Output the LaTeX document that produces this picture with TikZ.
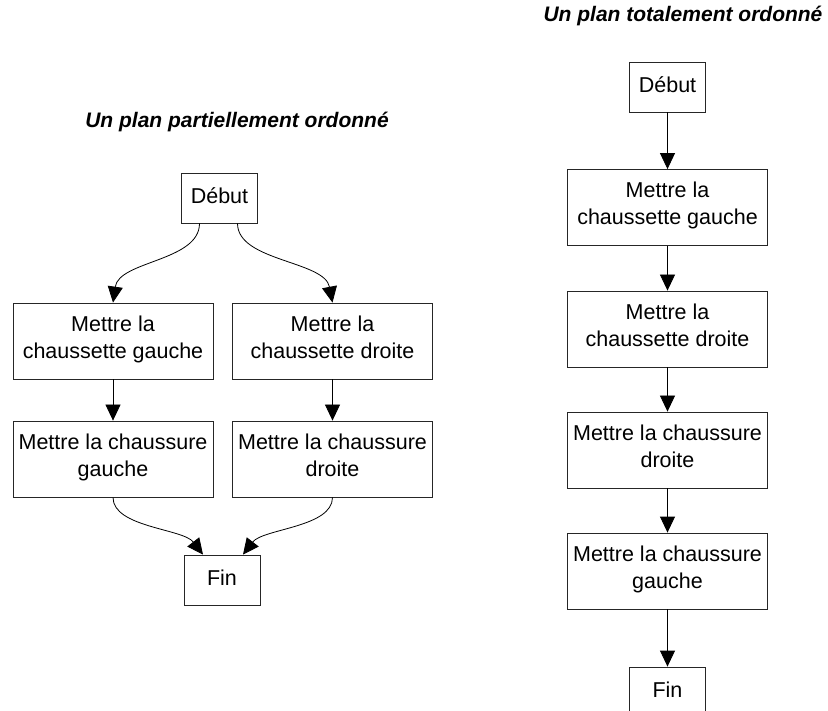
\documentclass[tikz,border=0pt]{standalone}
\usepackage{fontspec}
\setmainfont{Liberation Sans}
\usetikzlibrary{arrows.meta,positioning}

\begin{document}
\begin{tikzpicture}[
  x=1pt, y=-1pt,
  act/.style={rectangle, draw=black!85, line width=0.8pt, align=center, inner sep=0pt,
    minimum width=200pt, minimum height=76pt, font=\fontsize{21.5}{27}\selectfont,
    execute at end node={\strut}},
  term/.style={act, minimum width=76pt, minimum height=50pt},
  arrow/.style={-{Triangle[length=16pt,width=15pt]}, line width=0.8pt, black},
  titre/.style={font=\fontsize{21}{24}\selectfont\bfseries\itshape},
]
\useasboundingbox (0,0) rectangle (828,711);

% Plan partiellement ordonne
\node[titre] (tA) at (237,122) {Un plan partiellement ordonné};
\node[term] (debutA) at (219.5,198) {Début};
\node[act] (chgA) at (113,341) {Mettre la\\chaussette gauche};
\node[act] (chdA) at (332.5,341) {Mettre la\\chaussette droite};
\node[act] (shgA) at (113,459) {Mettre la chaussure\\gauche};
\node[act] (shdA) at (332.5,459) {Mettre la chaussure\\droite};
\node[term] (finA) at (222,580) {Fin};

% Plan totalement ordonne
\node[titre] (tB) at (683,16) {Un plan totalement ordonné};
\node[term] (debutB) at (667.5,87) {Début};
\node[act] (b1) at (667.5,207.5) {Mettre la\\chaussette gauche};
\node[act] (b2) at (667.5,329) {Mettre la\\chaussette droite};
\node[act] (b3) at (667.5,450) {Mettre la chaussure\\droite};
\node[act] (b4) at (667.5,571) {Mettre la chaussure\\gauche};
\node[term] (finB) at (667.5,692) {Fin};

% Arrows
\draw[arrow] ([xshift=-20pt]debutA.south) .. controls +(0,38) and +(6,-42) .. (chgA.north);
\draw[arrow] ([xshift=18pt]debutA.south) .. controls +(0,38) and +(-8,-42) .. (chdA.north);
\draw[arrow] (chgA) -- (shgA);
\draw[arrow] (chdA) -- (shdA);
\draw[arrow] (shgA.south) .. controls +(0,30) and +(-20,-26) .. ([xshift=-19pt]finA.north);
\draw[arrow] (shdA.south) .. controls +(0,30) and +(20,-26) .. ([xshift=21pt]finA.north);

\foreach \i/\j in {debutB/b1, b1/b2, b2/b3, b3/b4, b4/finB} {
  \draw[arrow] (\i) -- (\j);
}

\end{tikzpicture}
\end{document}
